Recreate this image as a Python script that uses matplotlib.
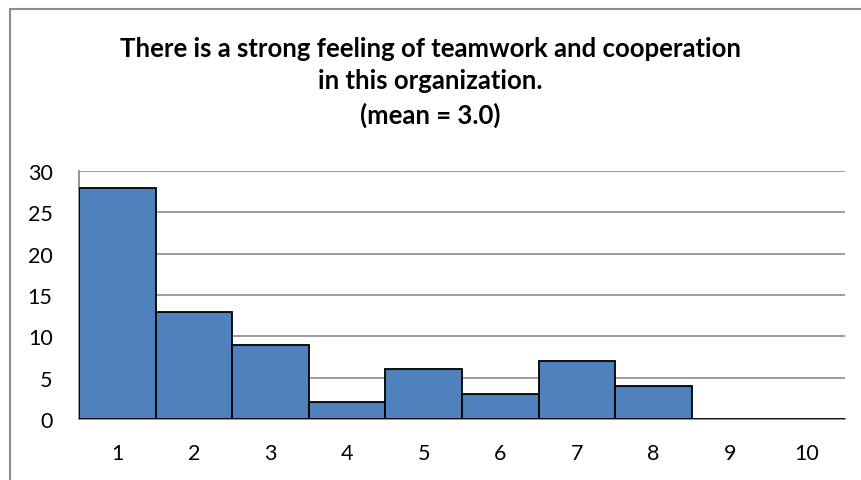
import matplotlib.pyplot as plt
from matplotlib.patches import Rectangle

categories = ["1", "2", "3", "4", "5", "6", "7", "8", "9", "10"]
counts = [28, 13, 9, 2, 6, 3, 7, 4, 0, 0]
y_ticks = [0, 5, 10, 15, 20, 25, 30]
title = "There is a strong feeling of teamwork and cooperation\nin this organization.\n(mean = 3.0)"

plt.rcParams["font.family"] = ["Lato", "DejaVu Sans"]

fig = plt.figure(figsize=(8.61, 4.81), dpi=100)
ax = fig.add_axes([79 / 861, 1 - 420 / 481, 766 / 861, 248 / 481])

# outer chart frame, cut off at right and bottom like the source image
fig.patches.append(Rectangle((10 / 861, -0.1), 1.2, 1 - 10 / 481 + 0.1,
                             transform=fig.transFigure, fill=False,
                             edgecolor="#8c8c8c", linewidth=1.5))

x = list(range(len(categories)))
ax.bar(x, counts, width=1.0, color="#4f81bd", edgecolor="black", linewidth=1.3, zorder=3)

ax.set_xlim(-0.5, len(categories) - 0.5)
ax.set_ylim(0, 30)
ax.set_xticks(x)
ax.set_xticklabels(categories)
ax.set_yticks(y_ticks)
ax.tick_params(axis="both", length=0, labelsize=15.5)
ax.tick_params(axis="x", pad=17)
ax.tick_params(axis="y", pad=19)
ax.yaxis.grid(True, color="#8c8c8c", linewidth=1.2, zorder=0)
for side in ["top", "right"]:
    ax.spines[side].set_visible(False)
for side in ["left", "bottom"]:
    ax.spines[side].set_color("#8c8c8c")
    ax.spines[side].set_linewidth(1.3)

fig.text(0.5, 1 - 37 / 481, title, ha="center", va="top", fontsize=18.5,
         fontweight="bold", linespacing=1.42)

fig.savefig("out.png", dpi=100)
